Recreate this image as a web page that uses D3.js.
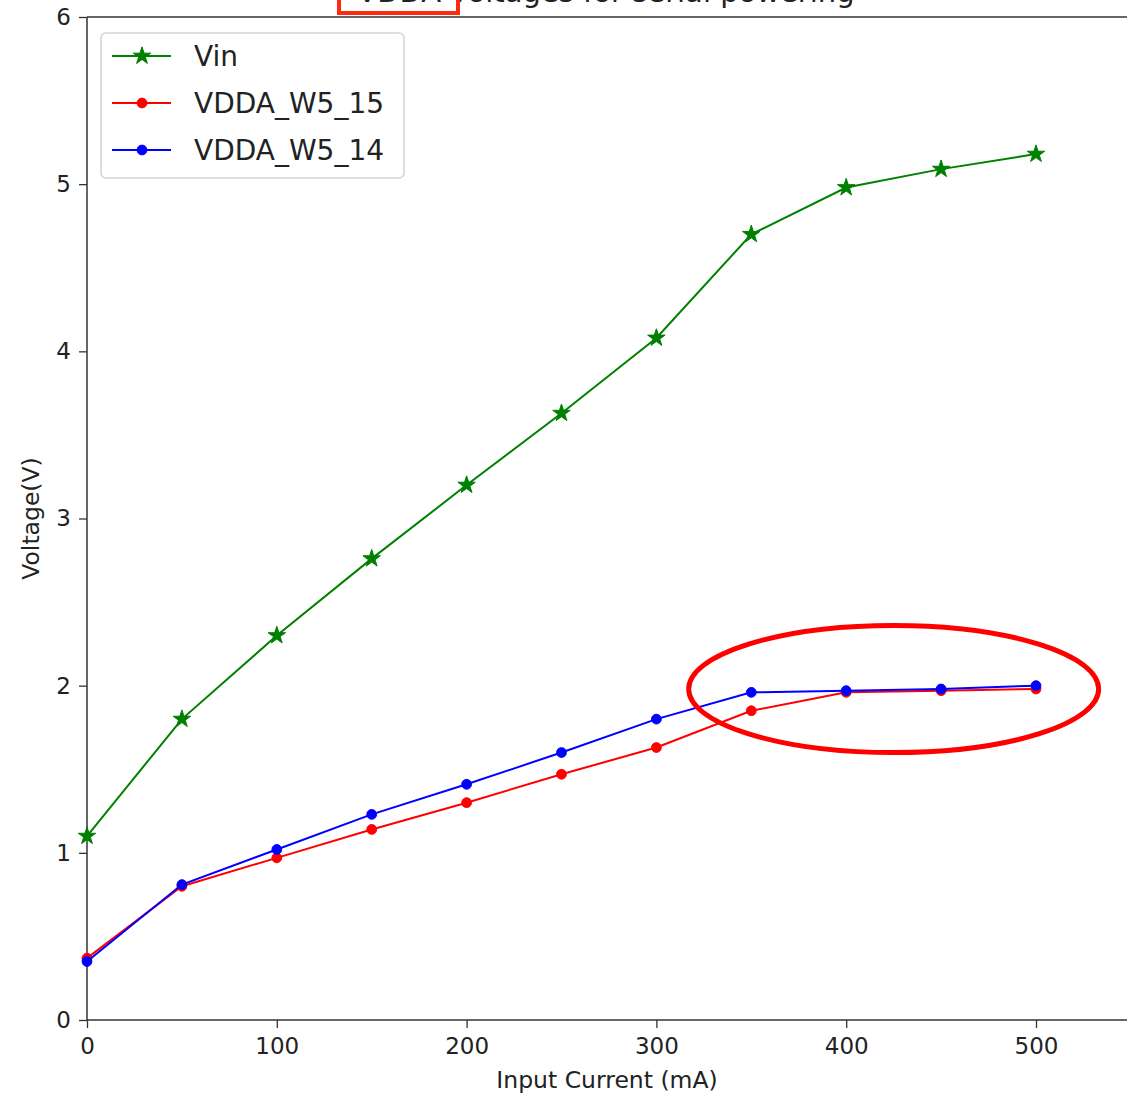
<!DOCTYPE html>
<html>
<head>
<meta charset="utf-8">
<title>VDDA voltages for serial powering</title>
<script src="https://d3js.org/d3.v7.min.js"></script>
<style>
body { margin: 0; background: #fff; }
text { font-family: "DejaVu Sans", sans-serif; fill: #222; }
</style>
</head>
<body>
<script type="text/javascript">

var width = 1127,
    height = 1096;

var margin = { left: 87, top: 17, bottom: 76 };

// input current in mA
var current = [0, 50, 100, 150, 200, 250, 300, 350, 400, 450, 500];

var vin = [1.10, 1.80, 2.30, 2.76, 3.20, 3.63, 4.08, 4.70, 4.98, 5.09, 5.18];
var vdda15 = [0.37, 0.80, 0.97, 1.14, 1.30, 1.47, 1.63, 1.85, 1.96, 1.97, 1.98];
var vdda14 = [0.35, 0.81, 1.02, 1.23, 1.41, 1.60, 1.80, 1.96, 1.97, 1.98, 2.00];

var xTicks = [0, 100, 200, 300, 400, 500];
var yTicks = [0, 1, 2, 3, 4, 5, 6];

var series = [
  { label: "Vin", values: vin, color: "green", marker: "star" },
  { label: "VDDA_W5_15", values: vdda15, color: "red", marker: "circle" },
  { label: "VDDA_W5_14", values: vdda14, color: "blue", marker: "circle" }
];

var x = d3.scaleLinear().domain([0, 500]).range([margin.left, 1036]);
var y = d3.scaleLinear().domain([0, 6]).range([height - margin.bottom, margin.top]);

var svg = d3.select("body").append("svg")
    .attr("width", width)
    .attr("height", height);

// axes
var xAxis = svg.append("g")
    .attr("transform", "translate(0," + y(0) + ")")
    .call(d3.axisBottom(x).tickValues(xTicks).tickFormat(d3.format("d"))
      .tickSize(8).tickPadding(10).tickSizeOuter(0));
xAxis.select(".domain").remove();
xAxis.selectAll("text").style("font-size", "23px").attr("fill", "#222");
xAxis.selectAll("line").attr("stroke", "#333").attr("stroke-width", 1.3);

var yAxis = svg.append("g")
    .attr("transform", "translate(" + x(0) + ",0)")
    .call(d3.axisLeft(y).tickValues(yTicks).tickFormat(d3.format("d"))
      .tickSize(8).tickPadding(8).tickSizeOuter(0));
yAxis.select(".domain").remove();
yAxis.selectAll("text").style("font-size", "23px").attr("fill", "#222");
yAxis.selectAll("line").attr("stroke", "#333").attr("stroke-width", 1.3);

// spines
svg.append("g").selectAll("line")
  .data([
    [x(0), y(0), width, y(0)],
    [x(0), y(6), width, y(6)],
    [x(0), y(0), x(0), y(6)]
  ])
  .enter().append("line")
    .attr("x1", d => d[0]).attr("y1", d => d[1])
    .attr("x2", d => d[2]).attr("y2", d => d[3])
    .attr("stroke", "#333")
    .attr("stroke-width", 1.5);

// axis labels
svg.append("text")
    .attr("x", x(274))
    .attr("y", 1088)
    .attr("text-anchor", "middle")
    .style("font-size", "23.5px")
    .text("Input Current (mA)");

svg.append("text")
    .attr("transform", "translate(39," + y(3) + ") rotate(-90)")
    .attr("text-anchor", "middle")
    .style("font-size", "23.5px")
    .text("Voltage(V)");

// title, mostly cut off at the top
svg.append("text")
    .attr("x", 606)
    .attr("y", 2)
    .attr("text-anchor", "middle")
    .style("font-size", "29px")
    .text("VDDA voltages for serial powering");

svg.append("rect")
    .attr("x", 339)
    .attr("y", -10)
    .attr("width", 119)
    .attr("height", 23)
    .attr("fill", "none")
    .attr("stroke", "#ff2a10")
    .attr("stroke-width", 4);

// lines and markers
var line = d3.line()
    .x((d, i) => x(current[i]))
    .y(d => y(d));

var starSym = d3.symbol().type(d3.symbolStar).size(95);
var dotSym = d3.symbol().type(d3.symbolCircle).size(75);

series.forEach(function(s) {
  svg.append("path")
      .datum(s.values)
      .attr("d", line)
      .attr("fill", "none")
      .attr("stroke", s.color)
      .attr("stroke-width", 2);

  svg.append("g").selectAll("path")
    .data(s.values)
    .enter().append("path")
      .attr("transform", (d, i) => "translate(" + x(current[i]) + "," + y(d) + ")")
      .attr("d", s.marker == "star" ? starSym : dotSym)
      .attr("fill", s.color)
      .attr("stroke", s.color)
      .attr("stroke-width", 1);
});

// hand-drawn highlight around the plateau
svg.append("ellipse")
    .attr("cx", x(425))
    .attr("cy", y(1.98))
    .attr("rx", x(108) - x(0))
    .attr("ry", y(0) - y(0.38))
    .attr("fill", "none")
    .attr("stroke", "#f00")
    .attr("stroke-width", 5);

// legend
var legend = svg.append("g")
    .attr("transform", "translate(101,33)");

legend.append("rect")
    .attr("width", 303)
    .attr("height", 145)
    .attr("rx", 5)
    .attr("fill", "#fff")
    .attr("fill-opacity", 0.85)
    .attr("stroke", "#d4d4d4")
    .attr("stroke-width", 1.5);

var li = legend.selectAll("g.item")
    .data(series)
    .enter().append("g")
    .attr("class", "item")
    .attr("transform", (d, i) => "translate(0," + (23 + i * 47) + ")");

li.append("line")
    .attr("x1", 11).attr("x2", 70)
    .attr("stroke", d => d.color)
    .attr("stroke-width", 2);

li.append("path")
    .attr("transform", "translate(41,0)")
    .attr("d", d => d.marker == "star" ? starSym() : dotSym())
    .attr("fill", d => d.color)
    .attr("stroke", d => d.color)
    .attr("stroke-width", 1);

li.append("text")
    .attr("x", 93)
    .attr("y", 10)
    .style("font-size", "28px")
    .text(d => d.label);

</script>
</body>
</html>
